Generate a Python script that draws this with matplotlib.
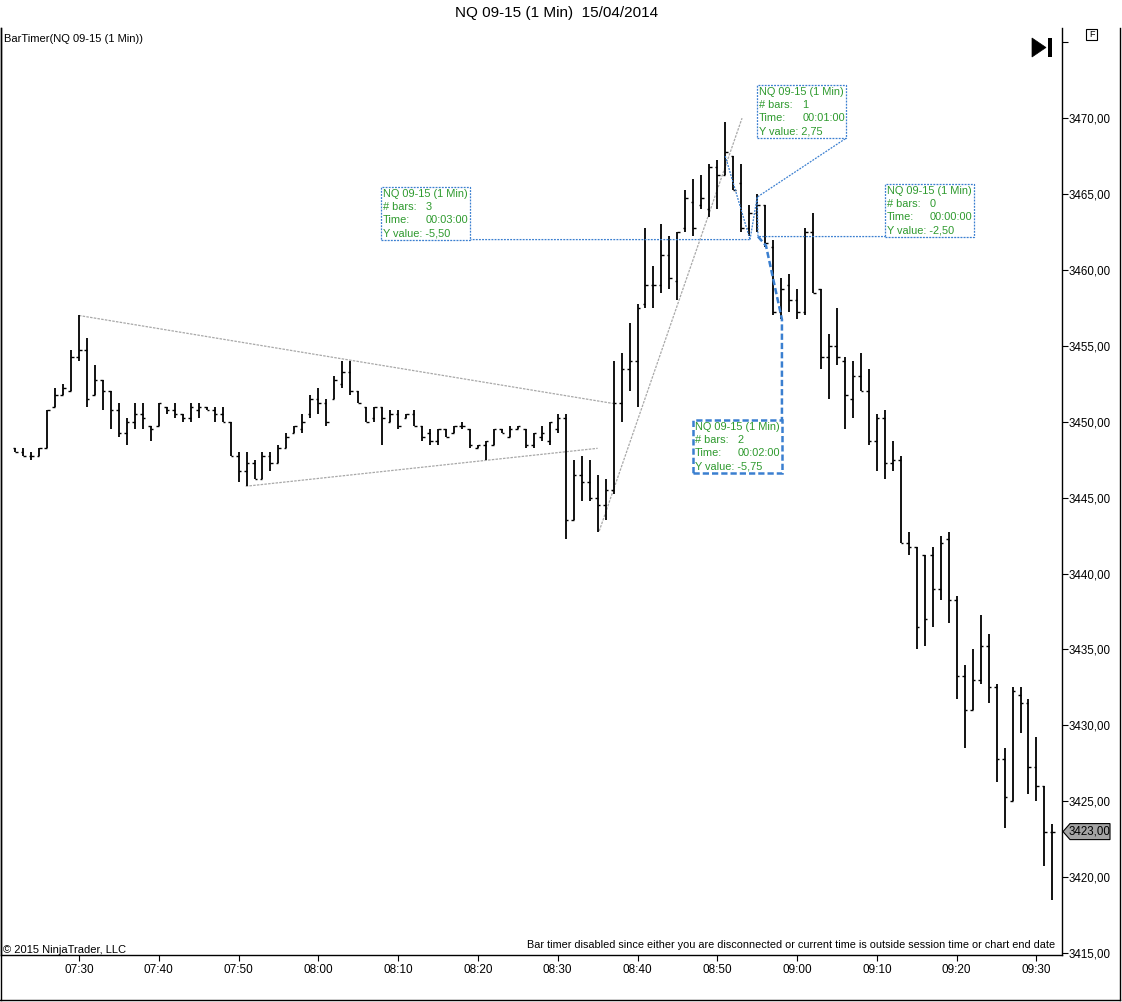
import matplotlib
matplotlib.use('Agg')
import matplotlib.pyplot as plt
from matplotlib.patches import Rectangle, Polygon
from matplotlib.lines import Line2D
import pandas as pd

plt.rcParams['font.family'] = ['Liberation Sans', 'DejaVu Sans']

# one bar per minute, 07:22 .. 09:32
times = pd.date_range("2014-04-15 07:22", "2014-04-15 09:32", freq="1min")

opens = [
    3448.25, 3448.0, 3447.75, 3447.75, 3448.25, 3451.0, 3451.75, 3452.0, 3454.25, 3454.75,
    3451.75, 3452.75, 3452.0, 3450.75, 3449.25, 3450.0, 3450.5, 3449.75, 3449.75, 3451.0,
    3450.75, 3450.5, 3450.25, 3450.75, 3451.0, 3450.75, 3450.5, 3450.0, 3447.75, 3446.75,
    3447.25, 3446.25, 3447.75, 3447.25, 3448.25, 3449.25, 3449.5, 3450.5, 3451.5, 3451.25,
    3451.5, 3452.5, 3453.25, 3452.0, 3451.0, 3450.25, 3451.0, 3450.0, 3450.5, 3450.25,
    3450.5, 3449.75, 3449.25, 3448.75, 3449.5, 3449.25, 3449.75, 3449.5, 3448.25, 3448.5,
    3448.5, 3449.5, 3449.0, 3449.5, 3449.5, 3448.5, 3449.0, 3448.75, 3449.5, 3450.25,
    3443.5, 3446.5, 3446.0, 3445.0, 3444.5, 3445.5, 3451.25, 3453.5, 3454.0, 3457.75,
    3459.0, 3459.0, 3461.0, 3459.25, 3462.75, 3464.5, 3464.25, 3464.0, 3466.75, 3466.25,
    3467.5, 3465.75, 3462.75, 3463.75, 3464.25, 3461.5, 3457.25, 3459.0, 3458.0, 3457.25,
    3462.5, 3458.75, 3454.25, 3455.0, 3454.0, 3451.5, 3453.0, 3452.0, 3448.75, 3450.25,
    3447.25, 3447.5, 3442.0, 3441.75, 3441.25, 3441.25, 3439.0, 3442.25, 3438.25, 3433.25,
    3431.0, 3433.0, 3435.25, 3432.5, 3427.75, 3425.0, 3432.0, 3431.5, 3427.25, 3426.0,
    3423.0,
]
highs = [
    3448.25, 3448.25, 3448.0, 3448.25, 3450.75, 3452.25, 3452.5, 3454.75, 3457.0, 3455.5,
    3453.75, 3452.75, 3452.0, 3451.25, 3450.25, 3451.25, 3451.25, 3449.75, 3451.25, 3451.0,
    3451.25, 3450.5, 3451.25, 3451.25, 3451.0, 3451.0, 3451.0, 3450.0, 3448.0, 3448.0,
    3447.5, 3448.0, 3448.0, 3448.5, 3449.25, 3449.75, 3450.5, 3451.75, 3452.25, 3451.5,
    3453.0, 3454.0, 3454.0, 3452.0, 3451.0, 3451.0, 3451.0, 3450.75, 3450.75, 3450.5,
    3450.75, 3449.75, 3449.5, 3449.5, 3449.5, 3449.75, 3450.0, 3449.5, 3448.5, 3448.75,
    3449.5, 3449.5, 3449.75, 3449.75, 3449.5, 3449.25, 3449.75, 3450.0, 3450.5, 3450.5,
    3447.5, 3447.75, 3447.5, 3446.5, 3446.25, 3454.0, 3454.5, 3456.5, 3457.75, 3462.75,
    3460.25, 3463.0, 3462.25, 3462.5, 3465.25, 3466.0, 3466.25, 3467.0, 3467.25, 3469.75,
    3467.5, 3467.0, 3464.25, 3465.0, 3464.25, 3462.0, 3459.5, 3459.75, 3458.75, 3462.75,
    3463.75, 3458.75, 3455.75, 3457.5, 3454.25, 3454.0, 3454.5, 3453.5, 3450.5, 3450.75,
    3448.75, 3447.75, 3442.75, 3441.75, 3441.25, 3441.75, 3442.5, 3442.75, 3438.5, 3434.0,
    3435.0, 3437.25, 3436.0, 3432.75, 3428.5, 3432.5, 3432.5, 3431.75, 3429.25, 3426.0,
    3423.5,
]
lows = [
    3448.0, 3447.75, 3447.5, 3447.75, 3448.25, 3451.0, 3451.75, 3452.0, 3454.0, 3451.0,
    3451.75, 3450.75, 3449.5, 3449.0, 3448.5, 3449.5, 3449.5, 3448.75, 3449.75, 3450.5,
    3450.25, 3450.0, 3450.0, 3450.25, 3450.75, 3450.0, 3450.0, 3447.75, 3446.0, 3445.75,
    3446.25, 3446.25, 3446.75, 3447.25, 3448.25, 3449.25, 3449.25, 3450.25, 3450.5, 3449.75,
    3451.5, 3452.25, 3451.75, 3451.25, 3450.0, 3450.0, 3448.5, 3450.0, 3449.5, 3450.25,
    3449.75, 3448.75, 3448.5, 3448.5, 3449.0, 3449.25, 3449.5, 3448.25, 3448.25, 3447.5,
    3448.5, 3449.25, 3449.0, 3449.5, 3448.25, 3448.25, 3448.75, 3448.5, 3449.25, 3442.25,
    3443.5, 3444.75, 3444.75, 3442.75, 3443.5, 3445.25, 3450.0, 3452.0, 3451.0, 3457.5,
    3457.5, 3458.5, 3458.75, 3458.0, 3462.5, 3462.25, 3464.0, 3463.5, 3464.0, 3466.25,
    3465.25, 3462.5, 3462.25, 3462.5, 3461.5, 3457.0, 3456.75, 3457.25, 3456.75, 3457.0,
    3458.5, 3453.5, 3451.5, 3453.75, 3449.5, 3450.25, 3452.0, 3448.5, 3446.75, 3446.25,
    3446.75, 3442.0, 3441.25, 3435.0, 3435.25, 3436.5, 3438.25, 3436.75, 3431.75, 3428.5,
    3431.0, 3432.75, 3431.5, 3426.25, 3423.25, 3425.0, 3429.5, 3425.5, 3425.0, 3420.75,
    3418.5,
]
closes = [
    3448.0, 3447.75, 3447.75, 3448.25, 3450.75, 3451.75, 3452.25, 3454.25, 3454.75, 3451.5,
    3452.75, 3452.0, 3450.75, 3449.25, 3450.0, 3450.5, 3450.25, 3449.5, 3451.25, 3450.75,
    3450.5, 3450.25, 3451.0, 3451.0, 3450.75, 3450.5, 3450.0, 3447.75, 3446.75, 3447.25,
    3446.25, 3447.75, 3447.25, 3448.25, 3449.0, 3449.75, 3450.0, 3451.5, 3451.25, 3450.0,
    3452.75, 3453.25, 3452.0, 3451.25, 3450.0, 3451.0, 3450.25, 3450.5, 3449.75, 3450.5,
    3449.75, 3449.0, 3448.75, 3449.5, 3449.0, 3449.75, 3449.75, 3448.5, 3448.5, 3448.75,
    3449.5, 3449.25, 3449.5, 3449.75, 3448.5, 3449.25, 3449.25, 3450.0, 3450.25, 3443.5,
    3446.5, 3446.0, 3445.0, 3444.5, 3445.5, 3451.25, 3453.5, 3454.0, 3457.5, 3459.0,
    3459.0, 3461.0, 3459.5, 3462.5, 3464.75, 3462.75, 3464.75, 3466.75, 3466.25, 3467.75,
    3465.25, 3462.75, 3463.75, 3464.25, 3461.75, 3457.25, 3458.75, 3458.0, 3457.25, 3462.5,
    3458.5, 3454.25, 3455.0, 3454.25, 3451.75, 3453.0, 3452.0, 3448.75, 3450.25, 3447.25,
    3447.5, 3442.0, 3441.75, 3436.5, 3437.0, 3439.0, 3442.0, 3438.25, 3433.25, 3431.0,
    3433.0, 3435.25, 3432.5, 3427.75, 3425.25, 3432.25, 3431.5, 3427.25, 3426.0, 3423.0,
    3423.0,
]
assert len(opens) == len(highs) == len(lows) == len(closes) == len(times)

last_price = 3423.00

# drawing objects (bar index, price)
trend_lines = [
    [(8.0, 3457.0), (75.0, 3451.2)],
    [(28.9, 3445.75), (73.0, 3448.25)],
    [(73.2, 3442.8), (91.1, 3470.0)],
]
measure_paths = [
    [(89.0, 3467.5), (92.1, 3462.0), (45.85, 3462.0)],
    [(92.1, 3462.0), (93.0, 3464.8), (104.2, 3468.7)],
    [(93.0, 3464.8), (93.1, 3462.2), (120.2, 3462.2)],
]
selected_path = [(93.1, 3462.2), (94.1, 3461.6), (96.1, 3456.75), (96.1, 3450.1)]

box_left = [45.85, 93.0, 109.0, 84.9]
box_top = [3465.46, 3472.18, 3465.66, 3450.11]
box_bars = ["3", "1", "0", "2"]
box_time = ["00:03:00", "00:01:00", "00:00:00", "00:02:00"]
box_yval = ["-5,50", "2,75", "-2,50", "-5,75"]

W, H = 1122, 1002
BLUE = '#3a7fd0'
GREEN = '#2e9a2e'


def fx(x):
    return x / W


def fy(y):
    return 1 - y / H


fig = plt.figure(figsize=(W / 100, H / 100), dpi=100)
ax = fig.add_axes([fx(1), fy(955), 1061 / W, 927 / H])

idx = list(range(len(times)))

# OHLC bars
ax.vlines(idx, lows, highs, color='black', lw=1.3, zorder=3)
ax.hlines(opens, [i - 0.32 for i in idx], idx, color='black', lw=1.0, zorder=3)
ax.hlines(closes, idx, [i + 0.32 for i in idx], color='black', lw=1.0, zorder=3)

ax.set_xlim(-1.77, 131.2)
ax.set_ylim(3414.87, 3475.94)

# trend lines
for pts in trend_lines:
    xs, ys = zip(*pts)
    ax.plot(xs, ys, color='#a8a8a8', lw=0.9, ls=(0, (2, 1)), zorder=2)

# measure tool lines
for pts in measure_paths:
    xs, ys = zip(*pts)
    ax.plot(xs, ys, color=BLUE, lw=0.9, ls=(0, (1.5, 1)), zorder=4)
xs, ys = zip(*selected_path)
ax.plot(xs, ys, color=BLUE, lw=1.8, ls=(0, (2.5, 1.2)), zorder=4)

bw = 89 / 7.98
bh = 53 / 15.18
for k in range(4):
    sel = (k == 3)
    ax.add_patch(Rectangle((box_left[k], box_top[k] - bh), bw, bh, facecolor='white',
                           edgecolor=BLUE, lw=1.8 if sel else 0.9,
                           ls=(0, (2.5, 1.2)) if sel else (0, (1.5, 1)), zorder=5))
    rows = [("NQ 09-15 (1 Min)", None), ("# bars:", box_bars[k]),
            ("Time:", box_time[k]), ("Y value: " + box_yval[k], None)]
    for r, (lab, val) in enumerate(rows):
        ax.annotate(lab, xy=(box_left[k], box_top[k]), xytext=(2, -7 - 13 * r),
                    textcoords='offset pixels', ha='left', va='center',
                    fontsize=7.9, color=GREEN, zorder=6)
        if val is not None:
            ax.annotate(val, xy=(box_left[k], box_top[k]), xytext=(45, -7 - 13 * r),
                        textcoords='offset pixels', ha='left', va='center',
                        fontsize=7.9, color=GREEN, zorder=6)

# axes and ticks
xt = [i for i, t in enumerate(times) if t.minute % 10 == 0]
ax.set_xticks(xt)
ax.set_xticklabels([times[i].strftime('%H:%M') for i in xt])
yt = list(range(3415, 3476, 5))
ax.set_yticks(yt)
ax.set_yticklabels([('%.2f' % v).replace('.', ',') if v < 3475 else '' for v in yt])
ax.yaxis.tick_right()
ax.tick_params(axis='x', direction='out', length=4.3, width=0.8, pad=2, labelsize=8.5)
ax.tick_params(axis='y', direction='out', length=4.3, width=0.8, pad=0.5, labelsize=8.3)
ax.spines['top'].set_visible(False)
for s in ['left', 'bottom', 'right']:
    ax.spines[s].set_linewidth(1.0)

# outer frame
for (x0, y0, x1, y1) in [(1120, 28, 1120, 1000), (0, 1000, 1120, 1000), (0.5, 28, 0.5, 1000)]:
    fig.add_artist(Line2D([fx(x0), fx(x1)], [fy(y0), fy(y1)], transform=fig.transFigure,
                          color='black', lw=1.0))

# texts
fig.text(fx(557), fy(13), "NQ 09-15 (1 Min)  15/04/2014", ha='center', va='center', fontsize=11)
fig.text(fx(4), fy(39), "BarTimer(NQ 09-15 (1 Min))", ha='left', va='center', fontsize=8)
fig.text(fx(3), fy(950), "\u00a9 2015 NinjaTrader, LLC", ha='left', va='center', fontsize=8)
fig.text(fx(1055), fy(945),
         "Bar timer disabled since either you are disconnected or current time is outside session time or chart end date",
         ha='right', va='center', fontsize=7.8)

# play icon and F box
fig.add_artist(Polygon([(fx(1032), fy(38)), (fx(1032), fy(57)), (fx(1046), fy(47.5))],
                       closed=True, transform=fig.transFigure, facecolor='black', edgecolor='black', lw=0.5))
fig.add_artist(Rectangle((fx(1048), fy(57)), 4 / W, 19 / H, transform=fig.transFigure,
                         facecolor='black', edgecolor='none'))
fig.add_artist(Rectangle((fx(1086), fy(40)), 11 / W, 11 / H, transform=fig.transFigure,
                         facecolor='white', edgecolor='black', lw=0.8))
fig.text(fx(1091.5), fy(34.5), "F", ha='center', va='center', fontsize=6.5)

# last price marker
py = ax.transData.transform((0, last_price))[1] / H
ph = 8 / H
fig.add_artist(Polygon([(fx(1063), py), (fx(1070), py + ph), (fx(1110), py + ph),
                        (fx(1110), py - ph), (fx(1070), py - ph)], closed=True,
                       transform=fig.transFigure, facecolor='#a4a4a4', edgecolor='black', lw=0.8))
fig.text(fx(1069), py, ('%.2f' % last_price).replace('.', ','), ha='left', va='center', fontsize=8.3)

fig.savefig('out.png', dpi=100)
